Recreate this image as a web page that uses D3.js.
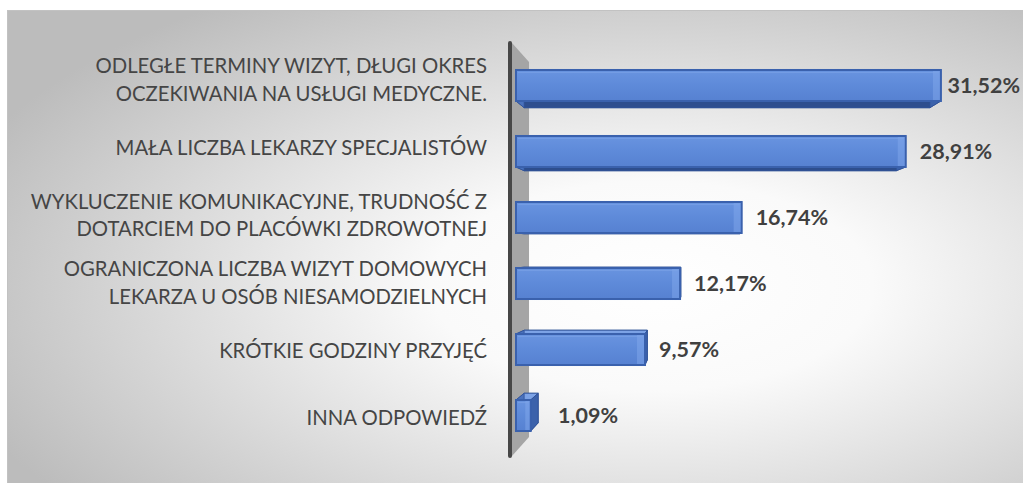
<!DOCTYPE html>
<html lang="pl">
<head>
<meta charset="utf-8">
<script src="https://cdn.jsdelivr.net/npm/d3@7"></script>
<style>
  html, body { margin: 0; padding: 0; background: #ffffff; }
  svg { display: block; }
</style>
</head>
<body>
<svg id="chart" width="1023" height="483"></svg>
<script>
// Problems reported with access to medical care (share of answers, %)
const categories = [
  ["ODLEGŁE TERMINY WIZYT, DŁUGI OKRES", "OCZEKIWANIA NA USŁUGI MEDYCZNE."],
  ["MAŁA LICZBA LEKARZY SPECJALISTÓW"],
  ["WYKLUCZENIE KOMUNIKACYJNE, TRUDNOŚĆ Z", "DOTARCIEM DO PLACÓWKI ZDROWOTNEJ"],
  ["OGRANICZONA LICZBA WIZYT DOMOWYCH", "LEKARZA U OSÓB NIESAMODZIELNYCH"],
  ["KRÓTKIE GODZINY PRZYJĘĆ"],
  ["INNA ODPOWIEDŹ"]
];
const values = [31.52, 28.91, 16.74, 12.17, 9.57, 1.09];
const valueLabels = ["31,52%", "28,91%", "16,74%", "12,17%", "9,57%", "1,09%"];

const W = 1023, H = 483;
const svg = d3.select("#chart");
const defs = svg.append("defs");

// chart area background: soft radial gradient, white in the middle
const bg = defs.append("radialGradient").attr("id", "bgGrad")
  .attr("cx", "0.63").attr("cy", "0.57").attr("r", "0.72");
bg.append("stop").attr("offset", "0").attr("stop-color", "#ffffff");
bg.append("stop").attr("offset", "0.3").attr("stop-color", "#fafafa");
bg.append("stop").attr("offset", "1").attr("stop-color", "#bcbcbc");

svg.append("rect")
  .attr("x", 7.5).attr("y", 10.5).attr("width", W).attr("height", H)
  .attr("fill", "url(#bgGrad)").attr("stroke", "#c2c2c2").attr("stroke-width", 1);

// front face gradient for the bars
const fg = defs.append("linearGradient").attr("id", "barFront")
  .attr("x1", 0).attr("y1", 0).attr("x2", 0).attr("y2", 1);
fg.append("stop").attr("offset", "0").attr("stop-color", "#6994e0");
fg.append("stop").attr("offset", "0.5").attr("stop-color", "#5e8ad9");
fg.append("stop").attr("offset", "1").attr("stop-color", "#5681d1");

// scales
const x = d3.scaleLinear().domain([0, 35]).range([516, 516 + 35 * 13.48]);
const y = d3.scaleBand().domain(d3.range(categories.length))
  .range([52.5, 448.5]).paddingInner(0.53).paddingOuter(0.265);
// axis labels sit on the receding wall, spread slightly wider than the bars
const yLabel = d3.scalePoint().domain(d3.range(categories.length)).range([80, 418]);

// perspective: faces recede toward a vanishing point
const VP = [697, 250];
const toward = (p, t) => [p[0] + t * (VP[0] - p[0]), p[1] + t * (VP[1] - p[1])];

// side wall of the category axis
const wallFront = { x: x(0) - 4, top: 43, bottom: 456 };
const wallT = 0.092;
const wTop = toward([wallFront.x, wallFront.top], wallT);
const wBot = toward([wallFront.x, wallFront.bottom], wallT);
svg.append("polygon")
  .attr("points", [[wallFront.x, wallFront.top], wTop, wBot, [wallFront.x, wallFront.bottom]].map(p => p.join(",")).join(" "))
  .attr("fill", "#a5a5a5");
svg.append("line")
  .attr("x1", wallFront.x - 2).attr("x2", wallFront.x - 2)
  .attr("y1", wallFront.top).attr("y2", wallFront.bottom)
  .attr("stroke", "#474747").attr("stroke-width", 4).attr("stroke-linecap", "round");

// bars drawn as perspective boxes
const depthT = 0.045;
const bars = svg.append("g");
values.forEach((v, i) => {
  const xa = x(0), xb = x(v), ya = y(i), yb = y(i) + y.bandwidth();
  const F = { tl: [xa, ya], tr: [xb, ya], br: [xb, yb], bl: [xa, yb] };
  const B = {};
  for (const k in F) B[k] = toward(F[k], depthT);
  const g = bars.append("g");
  const poly = (pts, fill) => g.append("polygon")
    .attr("points", pts.map(p => p.join(",")).join(" "))
    .attr("fill", fill).attr("stroke", "#2f5197").attr("stroke-width", 0.8)
    .attr("stroke-linejoin", "round");
  poly([B.tl, B.tr, B.br, B.bl], "#3b5fa6");
  poly([F.tl, F.tr, B.tr, B.tl], "#7da3e6");   // top
  poly([F.bl, F.br, B.br, B.bl], "#2e4e8e");   // bottom
  poly([F.tl, F.bl, B.bl, B.tl], "#4a72bd");   // left
  poly([F.tr, F.br, B.br, B.tr], "#3c62ab");   // right
  // front face
  g.append("rect")
    .attr("x", xa).attr("y", ya).attr("width", xb - xa).attr("height", yb - ya)
    .attr("fill", "url(#barFront)").attr("stroke", "#3a61ad").attr("stroke-width", 2);
  // bevel highlight near the end of the bar
  const bw = Math.min(7, (xb - xa) * 0.3);
  g.append("rect")
    .attr("x", xb - bw - 1).attr("y", ya + 1).attr("width", bw).attr("height", yb - ya - 2)
    .attr("fill", "#86aaee").attr("opacity", 0.45);
  g.append("line")
    .attr("x1", xa + 2).attr("x2", xb - 2).attr("y1", ya + 2.5).attr("y2", ya + 2.5)
    .attr("stroke", "#7ea4e8").attr("stroke-width", 1).attr("opacity", 0.6);
});

// category labels
const catG = svg.append("g")
  .attr("font-family", "Lato, 'Open Sans', sans-serif")
  .attr("font-size", 20.3).attr("font-weight", 400)
  .attr("fill", "#454545").attr("text-anchor", "end");
categories.forEach((lines, i) => {
  const cy = yLabel(i);
  const lh = 27.5;
  const t = catG.append("text").attr("x", 487);
  lines.forEach((ln, j) => {
    t.append("tspan").attr("x", 487)
      .attr("y", cy + (j - (lines.length - 1) / 2) * lh)
      .attr("dy", "0.35em").text(ln);
  });
});

// value labels
const valG = svg.append("g")
  .attr("font-family", "Lato, 'Open Sans', sans-serif")
  .attr("font-size", 21.5).attr("font-weight", "bold").attr("fill", "#404040");
values.forEach((v, i) => {
  const cy = y(i) + y.bandwidth() / 2;
  const t = valG.append("text").attr("y", cy).attr("dy", "0.35em").text(valueLabels[i]);
  const w = t.node().getComputedTextLength();
  let lx = Math.max(x(v) + 14, x(0) + 42);
  if (lx + w > W - 3) lx = W - 3 - w;
  t.attr("x", lx);
});
</script>
</body>
</html>
